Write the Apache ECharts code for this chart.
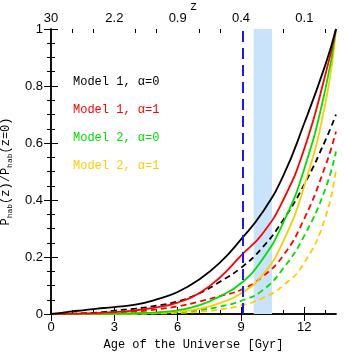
<!DOCTYPE html>
<html>
<head>
<meta charset="utf-8">
<script src="https://cdn.jsdelivr.net/npm/echarts@6/dist/echarts.min.js"></script>
<style>
  html, body { margin: 0; padding: 0; background: #fff; }
  #chart { width: 344px; height: 355px; }
</style>
</head>
<body>
<div id="chart"></div>
<script>
// age of the universe [Gyr]
var ages = [0, 0.5, 1, 1.5, 2, 2.5, 3, 4, 5, 6, 7, 8, 9, 10, 11, 12, 13, 13.5];
// P_hab(z)/P_hab(z=0), solid and dashed curve for each model
var m1a0 = [0, 0.004, 0.009, 0.013, 0.017, 0.021, 0.024, 0.033, 0.051, 0.077, 0.12, 0.18, 0.262, 0.355, 0.485, 0.67, 0.875, 1.0];
var m1a0d = [0, 0.0005, 0.001, 0.002, 0.004, 0.007, 0.012, 0.019, 0.029, 0.044, 0.072, 0.113, 0.162, 0.232, 0.33, 0.455, 0.61, 0.70];
var m1a1 = [0, 0.0005, 0.001, 0.002, 0.003, 0.005, 0.007, 0.013, 0.023, 0.04, 0.072, 0.128, 0.205, 0.28, 0.40, 0.58, 0.84, 1.0];
var m1a1d = [0, 0.0003, 0.0007, 0.0012, 0.002, 0.003, 0.005, 0.009, 0.016, 0.027, 0.043, 0.063, 0.085, 0.13, 0.205, 0.335, 0.52, 0.64];
var m2a0 = [0, 0.0001, 0.0002, 0.0003, 0.0005, 0.0008, 0.0012, 0.003, 0.006, 0.013, 0.03, 0.062, 0.108, 0.19, 0.32, 0.51, 0.79, 1.0];
var m2a0d = [0, 0.0001, 0.0001, 0.0002, 0.0003, 0.0004, 0.0006, 0.0015, 0.0035, 0.007, 0.014, 0.026, 0.046, 0.082, 0.16, 0.275, 0.44, 0.57];
var m2a1 = [0, 0.0001, 0.0001, 0.0002, 0.0003, 0.0004, 0.0006, 0.0015, 0.004, 0.008, 0.018, 0.038, 0.072, 0.135, 0.255, 0.45, 0.74, 1.0];
var m2a1d = [0, 0, 0.0001, 0.0001, 0.0002, 0.0003, 0.0004, 0.001, 0.002, 0.004, 0.008, 0.016, 0.03, 0.055, 0.10, 0.18, 0.34, 0.51];

var majorTicks = [0, 3, 6, 9, 12];
var minorTicks = [1, 2, 4, 5, 7, 8, 10, 11, 13];
var zLabels = ['30', '2.2', '0.9', '0.4', '0.1'];
var names = ['Model 1, \u03b1=0', 'Model 1, \u03b1=1', 'Model 2, \u03b1=0', 'Model 2, \u03b1=1'];
var colors = ['#000000', '#ff0000', '#00e000', '#ffcc00'];
var markedAge = 9.1;
var band = [9.6, 10.47];

var chart = echarts.init(document.getElementById('chart'));

function pairs(ys) {
    return ages.map(function (t, i) { return [t, ys[i]]; });
}
function curve(name, ys, color, dashed) {
    return {
        name: name,
        type: 'line',
        data: pairs(ys),
        showSymbol: false,
        smooth: 0.5,
        z: 3,
        lineStyle: { color: color, width: 1.8, type: dashed ? [6, 4] : 'solid' },
        silent: true
    };
}
function xAxisOf(pos, ticks, len, labels) {
    return {
        type: 'value', position: pos, min: 0, max: 13.5,
        axisLine: { show: labels !== null, lineStyle: { color: '#000', width: 1.5 } },
        axisTick: { show: true, inside: true, length: len, customValues: ticks, lineStyle: { color: '#000', width: 1 } },
        axisLabel: labels === null ? { show: false } : {
            show: true, customValues: majorTicks, margin: labels ? 4 : 7,
            fontFamily: 'Liberation Sans', fontSize: 13, color: '#000',
            formatter: function (v) { return labels ? labels[majorTicks.indexOf(v)] : String(v); }
        },
        splitLine: { show: false }
    };
}

var fontMono = 'Liberation Mono';
var option = {
    animation: false,
    grid: { left: 51, right: 8, top: 29, bottom: 41, containLabel: false, outerBoundsMode: 'none' },
    xAxis: [
        Object.assign(xAxisOf('bottom', majorTicks, 7, false), {
            name: 'Age of the Universe [Gyr]', nameLocation: 'middle', nameGap: 24,
            nameTextStyle: { fontFamily: fontMono, fontSize: 12, color: '#000' }
        }),
        Object.assign(xAxisOf('top', majorTicks, 7, zLabels), {
            name: 'z', nameLocation: 'middle', nameGap: 16, nameMoveOverlap: false,
            nameTextStyle: { fontFamily: fontMono, fontSize: 12, color: '#000' }
        }),
        xAxisOf('bottom', minorTicks, 4, null),
        xAxisOf('top', minorTicks, 4, null)
    ],
    yAxis: [
        {
            type: 'value', min: 0, max: 1, interval: 0.2, position: 'left',
            axisLine: { show: true, lineStyle: { color: '#000', width: 1.5 } },
            axisTick: { inside: true, length: 7, lineStyle: { color: '#000' } },
            minorTick: { show: true, splitNumber: 4, length: 4, lineStyle: { color: '#000' } },
            axisLabel: { fontFamily: 'Liberation Sans', fontSize: 13, color: '#000', margin: 8 },
            splitLine: { show: false },
            name: '{a|P}{s|hab}{a|(z)/P}{s|hab}{a|(z=0)}',
            nameLocation: 'middle', nameGap: 31,
            nameTextStyle: {
                rich: {
                    a: { fontFamily: fontMono, fontSize: 12, color: '#000', lineHeight: 16 },
                    s: { fontFamily: fontMono, fontSize: 8, color: '#000', lineHeight: 16, verticalAlign: 'bottom', padding: [6, 0, 0, 0] }
                }
            }
        },
        {
            type: 'value', min: 0, max: 1, interval: 0.2, position: 'right',
            axisLine: { show: true, lineStyle: { color: '#000', width: 1.5 } },
            axisTick: { inside: true, length: 7, lineStyle: { color: '#000' } },
            minorTick: { show: true, splitNumber: 4, length: 4, lineStyle: { color: '#000' } },
            axisLabel: { show: false },
            splitLine: { show: false }
        }
    ],
    series: [
        {
            name: 'band', type: 'line', data: [], z: 1, silent: true,
            markArea: {
                silent: true,
                itemStyle: { color: '#c8e3fa' },
                data: [[{ xAxis: band[0] }, { xAxis: band[1] }]]
            },
            markLine: {
                silent: true, symbol: 'none',
                label: { show: false },
                lineStyle: { color: '#1a1aee', width: 2, type: [11, 6] },
                data: [{ xAxis: markedAge }]
            }
        },
        curve(names[3] + ' dashed', m2a1d, colors[3], true),
        curve(names[2] + ' dashed', m2a0d, colors[2], true),
        curve(names[1] + ' dashed', m1a1d, colors[1], true),
        curve(names[0] + ' dashed', m1a0d, colors[0], true),
        curve(names[3], m2a1, colors[3], false),
        curve(names[2], m2a0, colors[2], false),
        curve(names[1], m1a1, colors[1], false),
        curve(names[0], m1a0, colors[0], false)
    ],
    graphic: names.map(function (n, i) {
        return {
            type: 'text', left: 73, top: 76 + i * 28,
            style: { text: n, fill: colors[i], font: '12px "' + fontMono + '"' }
        };
    })
};
chart.setOption(option);
</script>
</body>
</html>
